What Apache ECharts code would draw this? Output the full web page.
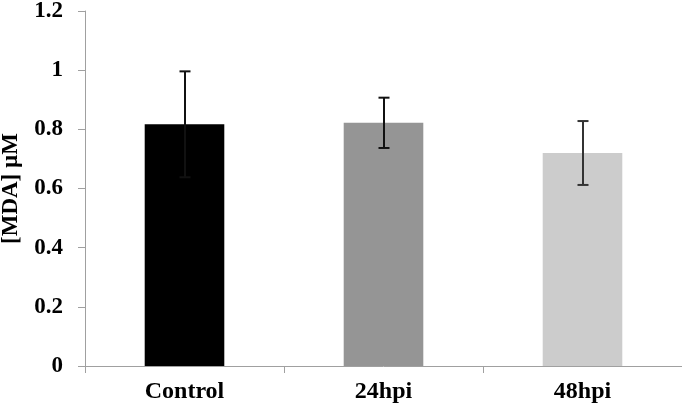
<!DOCTYPE html>
<html><head><meta charset="utf-8">
<script src="https://cdn.jsdelivr.net/npm/echarts@6/dist/echarts.min.js"></script>
<style>html,body{margin:0;padding:0;background:#fff}#c{width:682px;height:410px}</style>
</head><body><div id="c"></div>
<script>
const categories = ['Control', '24hpi', '48hpi'];
const values = [0.817, 0.822, 0.720];
const errors = [0.179, 0.085, 0.108];
const barColors = ['#000000', '#959595', '#cccccc'];
const errColors = ['#111111', '#111111', '#333333'];
const yTicks = [0, 0.2, 0.4, 0.6, 0.8, 1, 1.2];

const font = '"Liberation Serif", "Times New Roman", serif';
const chart = echarts.init(document.getElementById('c'));
chart.setOption({
  animation: false,
  grid: {left: 85, right: 0, top: 11, bottom: 44, containLabel: false, outerBoundsMode: 'none'},
  xAxis: {
    type: 'category', data: categories,
    axisLine: {lineStyle: {color: '#a0a0a0', width: 1}},
    axisTick: {show: true, length: 7, lineStyle: {color: '#a0a0a0'}},
    axisLabel: {color: '#000', fontFamily: font, fontWeight: 'bold', fontSize: 24, margin: 14}
  },
  yAxis: {
    type: 'value', min: 0, max: 1.2, interval: 0.2,
    name: '[MDA] µM', nameLocation: 'middle', nameGap: 62, nameRotate: 90,
    nameTextStyle: {color: '#000', fontFamily: font, fontWeight: 'bold', fontSize: 23},
    axisLine: {show: true, lineStyle: {color: '#a0a0a0', width: 1}},
    axisTick: {show: true, length: 7, lineStyle: {color: '#a0a0a0'}},
    splitLine: {show: false},
    axisLabel: {color: '#000', fontFamily: font, fontWeight: 'bold', fontSize: 23, margin: 22,
      formatter: v => { const t = yTicks.find(x => Math.abs(x - v) < 1e-9); return t === undefined ? '' : String(t); }}
  },
  series: [
    {
      type: 'bar', barCategoryGap: '60%',
      data: values.map((v, i) => ({value: v, itemStyle: {color: barColors[i]}}))
    },
    {
      type: 'custom',
      data: values.map((v, i) => [i, v - errors[i], v + errors[i]]),
      renderItem: (params, api) => {
        const i = api.value(0);
        const lo = api.coord([i, api.value(1)]);
        const hi = api.coord([i, api.value(2)]);
        const x = Math.round(lo[0]);
        const w = 5.5;
        const style = {stroke: errColors[params.dataIndex], lineWidth: 2};
        return {type: 'group', children: [
          {type: 'line', shape: {x1: x, y1: hi[1], x2: x, y2: lo[1]}, style},
          {type: 'line', shape: {x1: x - w, y1: hi[1], x2: x + w, y2: hi[1]}, style},
          {type: 'line', shape: {x1: x - w, y1: lo[1], x2: x + w, y2: lo[1]}, style}
        ]};
      },
      z: 10
    }
  ]
});
</script></body></html>
